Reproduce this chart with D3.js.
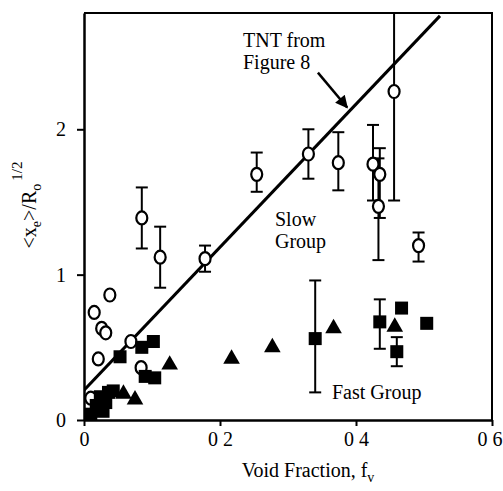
<!DOCTYPE html>
<html>
<head>
<meta charset="utf-8">
<script src="https://cdn.jsdelivr.net/npm/d3@7"></script>
<style>
  body { margin: 0; background: #fff; }
  svg text { font-family: "Liberation Serif", "Times New Roman", serif; fill: #000; }
</style>
</head>
<body>
<div id="chart"></div>
<script>
// slow group (open circles); lo/hi = error bar ends, null when none
const slowF  = [0.015, 0.038, 0.026, 0.032, 0.021, 0.069, 0.084, 0.010, 0.085, 0.112, 0.178, 0.254, 0.330, 0.374, 0.425, 0.435, 0.433, 0.456, 0.492];
const slowV  = [0.74, 0.86, 0.63, 0.60, 0.42, 0.54, 0.36, 0.15, 1.39, 1.12, 1.11, 1.69, 1.83, 1.77, 1.76, 1.69, 1.47, 2.26, 1.20];
const slowLo = [null, null, null, null, null, null, null, null, 1.18, 0.91, 1.02, 1.57, 1.66, 1.58, 1.51, 1.39, 1.10, 1.51, 1.09];
const slowHi = [null, null, null, null, null, null, null, null, 1.60, 1.33, 1.20, 1.84, 2.00, 1.98, 2.03, 1.87, 1.80, 3.00, 1.29];

// fast group, squares
const sqF  = [0.053, 0.085, 0.102, 0.090, 0.104, 0.036, 0.024, 0.018, 0.028, 0.010, 0.043, 0.032, 0.006, 0.340, 0.435, 0.467, 0.460, 0.504];
const sqV  = [0.435, 0.50, 0.54, 0.30, 0.29, 0.19, 0.16, 0.10, 0.06, 0.04, 0.20, 0.12, 0.015, 0.56, 0.675, 0.77, 0.47, 0.665];
const sqLo = [null, null, null, null, null, null, null, null, null, null, null, null, null, 0.19, 0.49, null, 0.37, null];
const sqHi = [null, null, null, null, null, null, null, null, null, null, null, null, null, 0.96, 0.83, null, 0.57, null];

// fast group, triangles
const triF = [0.058, 0.075, 0.126, 0.217, 0.277, 0.367, 0.457];
const triV = [0.18, 0.14, 0.38, 0.42, 0.50, 0.63, 0.64];

// TNT line from Figure 8
const tntF = [0, 0.5235];
const tntV = [0.205, 2.78];

const xTicks = [0, 0.2, 0.4, 0.6];
const xTickLabels = ["0", "0 2", "0 4", "0 6"];
const yTicks = [0, 1, 2];

const width = 503, height = 491;
const mLeft = 84, mRight = 492, mTop = 13, mBottom = 420;
const fs = "20px";

const svg = d3.select("#chart").append("svg")
  .attr("width", width).attr("height", height);

const x = d3.scaleLinear().domain([0, 0.6]).range([mLeft, mRight]);
const y = d3.scaleLinear().domain([0, 2.8]).range([mBottom, mTop]);

svg.append("clipPath").attr("id", "clip")
  .append("rect").attr("x", mLeft).attr("y", mTop).attr("width", mRight - mLeft).attr("height", mBottom - mTop);

// frame
svg.append("path")
  .attr("d", `M${mLeft},${mTop}H${mRight}V${mBottom}`)
  .attr("fill", "none").attr("stroke", "#000").attr("stroke-width", 2);

const xAxis = svg.append("g").attr("transform", `translate(0,${mBottom})`)
  .call(d3.axisBottom(x).tickValues(xTicks).tickSize(6).tickSizeOuter(0).tickPadding(6)
    .tickFormat((d, i) => xTickLabels[i]));
const yAxis = svg.append("g").attr("transform", `translate(${mLeft},0)`)
  .call(d3.axisLeft(y).tickValues(yTicks).tickSize(7).tickSizeOuter(0).tickPadding(11)
    .tickFormat(d3.format("d")));
[xAxis, yAxis].forEach(a => {
  a.select(".domain").attr("stroke-width", 2.5);
  a.selectAll(".tick line").attr("stroke-width", 2);
  a.selectAll("text").style("font-size", fs).attr("fill", "#000");
});
// last x label sits against the right edge
xAxis.selectAll(".tick text").filter((d, i) => i === xTicks.length - 1)
  .attr("text-anchor", "end").attr("x", 10);

const plot = svg.append("g").attr("clip-path", "url(#clip)");

// TNT line
plot.append("path")
  .attr("d", d3.line()(tntF.map((f, i) => [x(f), y(tntV[i])])))
  .attr("stroke", "#000").attr("stroke-width", 3).attr("fill", "none");

// error bars
function errBars(fv, lo, hi) {
  const cap = 6;
  fv.forEach((f, i) => {
    if (lo[i] == null) return;
    const cx = x(f);
    const g = plot.append("g").attr("stroke", "#000").attr("stroke-width", 2);
    g.append("line").attr("x1", cx).attr("x2", cx).attr("y1", y(lo[i])).attr("y2", y(hi[i]));
    g.append("line").attr("x1", cx - cap).attr("x2", cx + cap).attr("y1", y(lo[i])).attr("y2", y(lo[i]));
    g.append("line").attr("x1", cx - cap).attr("x2", cx + cap).attr("y1", y(hi[i])).attr("y2", y(hi[i]));
  });
}
errBars(slowF, slowLo, slowHi);
errBars(sqF, sqLo, sqHi);

// slow group circles
plot.selectAll(".slow").data(slowF).enter().append("ellipse")
  .attr("cx", d => x(d))
  .attr("cy", (d, i) => y(slowV[i]))
  .attr("rx", 5.5).attr("ry", 6.5)
  .attr("fill", "#fff").attr("stroke", "#000").attr("stroke-width", 2.2);

// squares
const sq = 13;
plot.selectAll(".sq").data(sqF).enter().append("rect")
  .attr("x", d => x(d) - sq / 2)
  .attr("y", (d, i) => y(sqV[i]) - sq / 2)
  .attr("width", sq).attr("height", sq)
  .attr("fill", "#000");

// triangles
const tri = d3.symbol().type(d3.symbolTriangle).size(120);
plot.selectAll(".tri").data(triF).enter().append("path")
  .attr("d", tri)
  .attr("transform", (d, i) => `translate(${x(d)},${y(triV[i])})`)
  .attr("fill", "#000");

// annotations
svg.append("text").attr("x", 243).attr("y", 47).style("font-size", fs).text("TNT from");
svg.append("text").attr("x", 243).attr("y", 69).style("font-size", fs).text("Figure 8");
svg.append("defs").append("marker")
  .attr("id", "arrow").attr("viewBox", "0 0 10 10").attr("refX", 9).attr("refY", 5)
  .attr("markerWidth", 6).attr("markerHeight", 5).attr("orient", "auto")
  .append("path").attr("d", "M0,0L10,5L0,10Z").attr("fill", "#000");
svg.append("line")
  .attr("x1", x(0.344)).attr("y1", y(2.39))
  .attr("x2", x(0.387)).attr("y2", y(2.15))
  .attr("stroke", "#000").attr("stroke-width", 2.5)
  .attr("marker-end", "url(#arrow)");

svg.append("text").attr("x", 275).attr("y", 226).style("font-size", fs).text("Slow");
svg.append("text").attr("x", 275).attr("y", 248).style("font-size", fs).text("Group");
svg.append("text").attr("x", 332).attr("y", 399).style("font-size", fs).text("Fast Group");

// axis titles
const xt = svg.append("text").attr("x", 308).attr("y", 477)
  .attr("text-anchor", "middle").style("font-size", fs);
xt.append("tspan").text("Void Fraction, f");
xt.append("tspan").attr("dy", 5).style("font-size", "14px").text("v");

const yt = svg.append("text")
  .attr("transform", "translate(36,205) rotate(-90)")
  .attr("text-anchor", "middle").style("font-size", fs);
yt.append("tspan").text("<x");
yt.append("tspan").attr("dy", 5).style("font-size", "14px").text("e");
yt.append("tspan").attr("dy", -5).text(">/R");
yt.append("tspan").attr("dy", 5).style("font-size", "14px").text("o");
yt.append("tspan").attr("dy", -19).attr("dx", 3).style("font-size", "15px").text("1/2");
</script>
</body>
</html>
